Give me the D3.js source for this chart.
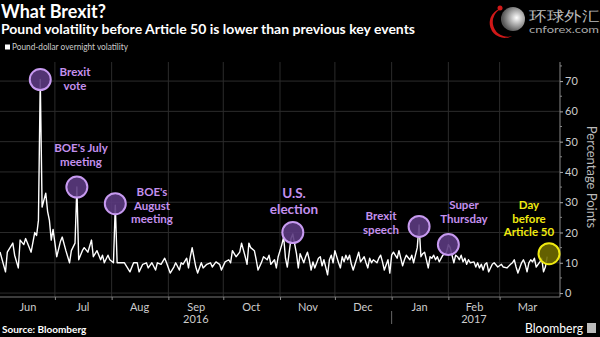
<!DOCTYPE html>
<html><head><meta charset="utf-8">
<script src="https://cdn.jsdelivr.net/npm/d3@7"></script>
<style>
html,body{margin:0;padding:0;background:#000;}
svg{display:block;}
text{font-family:Lato,"Open Sans",sans-serif;}
</style></head>
<body>
<script>
// ---------- data ----------
const dates = ["2016-06-01","2016-06-04","2016-06-05","2016-06-08","2016-06-09","2016-06-11","2016-06-12","2016-06-14","2016-06-15","2016-06-16","2016-06-18","2016-06-20","2016-06-21","2016-06-22","2016-06-23","2016-06-24","2016-06-26","2016-06-27","2016-06-28","2016-06-29","2016-06-30","2016-07-02","2016-07-04","2016-07-05","2016-07-07","2016-07-09","2016-07-10","2016-07-12","2016-07-13","2016-07-14","2016-07-16","2016-07-17","2016-07-19","2016-07-21","2016-07-22","2016-07-24","2016-07-26","2016-07-27","2016-07-28","2016-07-30","2016-07-31","2016-08-02","2016-08-03","2016-08-04","2016-08-06","2016-08-08","2016-08-09","2016-08-11","2016-08-13","2016-08-15","2016-08-16","2016-08-18","2016-08-20","2016-08-21","2016-08-23","2016-08-25","2016-08-26","2016-08-28","2016-08-30","2016-08-31","2016-09-02","2016-09-04","2016-09-05","2016-09-07","2016-09-08","2016-09-09","2016-09-11","2016-09-12","2016-09-13","2016-09-14","2016-09-16","2016-09-17","2016-09-19","2016-09-20","2016-09-22","2016-09-24","2016-09-25","2016-09-27","2016-09-29","2016-09-30","2016-10-02","2016-10-04","2016-10-05","2016-10-06","2016-10-08","2016-10-10","2016-10-11","2016-10-13","2016-10-14","2016-10-15","2016-10-16","2016-10-18","2016-10-19","2016-10-20","2016-10-22","2016-10-23","2016-10-25","2016-10-26","2016-10-27","2016-10-29","2016-10-30","2016-10-31","2016-11-02","2016-11-03","2016-11-04","2016-11-05","2016-11-07","2016-11-08","2016-11-10","2016-11-11","2016-11-12","2016-11-14","2016-11-15","2016-11-16","2016-11-17","2016-11-18","2016-11-19","2016-11-20","2016-11-22","2016-11-23","2016-11-24","2016-11-25","2016-11-27","2016-11-28","2016-11-29","2016-11-30","2016-12-01","2016-12-03","2016-12-04","2016-12-05","2016-12-06","2016-12-07","2016-12-08","2016-12-09","2016-12-10","2016-12-11","2016-12-13","2016-12-14","2016-12-15","2016-12-17","2016-12-18","2016-12-19","2016-12-20","2016-12-21","2016-12-22","2016-12-24","2016-12-25","2016-12-26","2016-12-27","2016-12-28","2016-12-30","2016-12-31","2017-01-01","2017-01-02","2017-01-04","2017-01-05","2017-01-06","2017-01-07","2017-01-08","2017-01-09","2017-01-11","2017-01-12","2017-01-13","2017-01-14","2017-01-15","2017-01-16","2017-01-17","2017-01-18","2017-01-19","2017-01-20","2017-01-21","2017-01-22","2017-01-23","2017-01-24","2017-01-25","2017-01-26","2017-01-27","2017-01-29","2017-01-30","2017-01-31","2017-02-01","2017-02-02","2017-02-04","2017-02-05","2017-02-06","2017-02-07","2017-02-08","2017-02-09","2017-02-10","2017-02-11","2017-02-12","2017-02-13","2017-02-15","2017-02-16","2017-02-17","2017-02-18","2017-02-19","2017-02-20","2017-02-21","2017-02-22","2017-02-23","2017-02-25","2017-02-26","2017-02-28","2017-03-02","2017-03-03","2017-03-05","2017-03-07","2017-03-08","2017-03-09","2017-03-10","2017-03-11","2017-03-13","2017-03-14","2017-03-15","2017-03-16","2017-03-17","2017-03-18","2017-03-19","2017-03-20","2017-03-21","2017-03-23","2017-03-24","2017-03-25","2017-03-26","2017-03-27"];
const values = [13.6,7,13.5,16.5,12.5,8.3,17.5,16,18,16.5,13.5,20,19,24,70.5,28.4,33,27,24,17.5,21,12,17,18.5,14,10,14,16.5,35,11,14,15,13.5,17.5,12,14,11,12.5,10,12.5,11,10,29,10,10,10,9,7,10,10,7,9.5,10,8.3,10,7.6,10,9.5,11.5,10,6.6,8.6,10,7.6,10,9.5,11.5,8.3,12,15,8.6,6.6,10,8.3,9.5,10,8.6,10.3,9.5,7.6,10.3,11,10,14,12,13.5,16.5,12,9.5,16.5,15,14,11,7.6,10.3,12,11,12.5,9.5,11,8.3,12,16,18.5,11.5,8.6,18,19.5,13,8.3,13,10,12,13.5,11,7.6,10.3,8.3,11.5,12,9,11,6,11,12.5,10,14,10,8.3,12,10.3,12.5,11,12.5,9.5,7.6,11.5,13.5,10.3,12,10,8.3,11.5,10,11,10,11.5,12.5,10.3,7.6,11,6.6,12.5,13.5,11.5,14,11.5,9,11,12.5,11,12.5,10,12.5,15,22.5,12,13,13.5,11,8.3,12,11.5,12.5,11,12,10.3,12.5,13,13.5,16,15,10,12.5,12,11,12.5,10.3,11.5,9.5,11,10,10.3,8.6,10,8.3,9.5,7.6,9.5,10,7,9.5,10,8.6,9.5,8.6,8.3,9.5,10,11,8.6,6.6,10,11,9.5,7,10,11,10.3,11.5,8.6,10.3,11.5,7,8.6,12];

const eventDates  = ["2016-06-23","2016-07-13","2016-08-03","2016-11-08","2017-01-16","2017-02-01","2017-03-28"];
const eventValues = [70.5,35,29.5,20,22,16,13];
const eventLabels = [["Brexit","vote"],["BOE's July","meeting"],["BOE's","August","meeting"],["U.S.","election"],["Brexit","speech"],["Super","Thursday"],["Day","before","Article 50"]];

const yTicks = [0,10,20,30,40,50,60,70];
const monthLabels = ["Jun","Jul","Aug","Sep","Oct","Nov","Dec","Jan","Feb","Mar"];
const monthMids = ["2016-06-16","2016-07-16","2016-08-16","2016-09-16","2016-10-16","2016-11-16","2016-12-16","2017-01-16","2017-02-15","2017-03-16"];
const monthStarts = ["2016-07-01","2016-08-01","2016-09-01","2016-10-01","2016-11-01","2016-12-01","2017-01-01","2017-02-01","2017-03-01"];
const yearLabels = ["2016","2017"];
const yearMids = ["2016-09-16","2017-02-15"];

// ---------- layout ----------
const W = 600, H = 337;
const parse = d3.timeParse("%Y-%m-%d");
const x = d3.scaleTime().domain([parse("2016-06-01"), parse("2017-04-03")]).range([0, 560]);
const y = d3.scaleLinear().domain([-1.3, 76.3]).range([297, 62]);

const svg = d3.select("body").append("svg").attr("width", W).attr("height", H);
svg.append("rect").attr("width", W).attr("height", H).attr("fill", "#000");

// header
svg.append("text").attr("x", 1).attr("y", 18).attr("fill", "#fff")
  .attr("font-size", 19).attr("font-weight", 700)
  .attr("textLength", 105).attr("lengthAdjust", "spacingAndGlyphs")
  .text("What Brexit?");
svg.append("text").attr("x", 1).attr("y", 34).attr("fill", "#fff")
  .attr("font-size", 13.5).attr("font-weight", 700)
  .attr("textLength", 414).attr("lengthAdjust", "spacingAndGlyphs")
  .text("Pound volatility before Article 50 is lower than previous key events");
svg.append("rect").attr("x", 5).attr("y", 44.5).attr("width", 5).attr("height", 5).attr("fill", "#fff");
svg.append("text").attr("x", 12).attr("y", 50).attr("fill", "#ccc")
  .attr("font-size", 8.5).attr("textLength", 116).attr("lengthAdjust", "spacingAndGlyphs")
  .text("Pound-dollar overnight volatility");

// logo
const defs = svg.append("defs");
const rg = defs.append("radialGradient").attr("id", "lg").attr("cx", "65%").attr("cy", "45%").attr("r", "60%");
rg.append("stop").attr("offset", "0%").attr("stop-color", "#fff");
rg.append("stop").attr("offset", "100%").attr("stop-color", "#555");
svg.append("path").attr("d", "M503,8 A15,15 0 1,0 512,36 A13,13 0 0,1 503,8 Z").attr("fill", "#d01818");
svg.append("circle").attr("cx", 513).attr("cy", 19).attr("r", 12).attr("fill", "url(#lg)");
svg.append("circle").attr("cx", 500).attr("cy", 8).attr("r", 2.5).attr("fill", "#d01818");
svg.append("text").attr("x", 529).attr("y", 21).attr("fill", "#bbb")
  .attr("font-family", "Noto Sans CJK SC").attr("font-size", 14)
  .attr("textLength", 70).attr("lengthAdjust", "spacingAndGlyphs").text("环球外汇");
svg.append("text").attr("x", 529).attr("y", 33).attr("fill", "#aaa")
  .attr("font-family", "DejaVu Sans Mono").attr("font-size", 9.5)
  .attr("textLength", 70).attr("lengthAdjust", "spacingAndGlyphs").text("cnforex.com");

// grid
const g = svg.append("g");
g.selectAll(".hg").data(yTicks).join("line")
  .attr("x1", 0).attr("x2", 560).attr("y1", d => y(d)).attr("y2", d => y(d))
  .attr("stroke", "#2b2b2b").attr("stroke-width", 1);
g.selectAll(".vg").data(monthStarts).join("line")
  .attr("x1", d => x(parse(d))).attr("x2", d => x(parse(d)))
  .attr("y1", 62).attr("y2", 297)
  .attr("stroke", "#2b2b2b").attr("stroke-width", 1);

// right axis
const yAxis = d3.axisRight(y).tickValues(yTicks).tickSize(3).tickPadding(2);
const ya = svg.append("g").attr("transform", "translate(560,0)").call(yAxis);
ya.select(".domain").attr("stroke", "#888").attr("d", "M0,62V297");
ya.selectAll(".tick line").attr("stroke", "#aaa");
ya.selectAll(".tick text").attr("fill", "#ccc").attr("font-size", 11).attr("font-family", "Lato, sans-serif");
const minor = d3.range(5, 76, 10);
ya.selectAll(".mn").data(minor).join("line")
  .attr("x1", 0).attr("x2", 2).attr("y1", d => y(d)).attr("y2", d => y(d)).attr("stroke", "#888");
svg.append("text").attr("transform", "translate(587,177) rotate(90)")
  .attr("text-anchor", "middle").attr("fill", "#bbb").attr("font-size", 13)
  .text("Percentage Points");

// x axis
svg.append("line").attr("x1", 0).attr("x2", 560).attr("y1", 297).attr("y2", 297).attr("stroke", "#777");
const xTickAxis = d3.axisBottom(x).tickValues(monthStarts.map(parse)).tickSize(3).tickFormat("");
const xt = svg.append("g").attr("transform", "translate(0,297)").call(xTickAxis);
xt.select(".domain").remove();
xt.selectAll(".tick line").attr("stroke", "#888");
const xLabAxis = d3.axisBottom(x).tickValues(monthMids.map(parse)).tickSize(0).tickPadding(6)
  .tickFormat((d, i) => monthLabels[i]);
const xl = svg.append("g").attr("transform", "translate(0,297)").call(xLabAxis);
xl.select(".domain").remove();
xl.selectAll(".tick text").attr("fill", "#ccc").attr("font-size", 11).attr("font-family", "Lato, sans-serif");
svg.selectAll(".yl").data(yearLabels).join("text")
  .attr("x", (d, i) => x(parse(yearMids[i]))).attr("y", 323)
  .attr("text-anchor", "middle").attr("fill", "#ccc").attr("font-size", 11).text(d => d);
svg.append("line").attr("x1", x(parse("2017-01-01"))).attr("x2", x(parse("2017-01-01")))
  .attr("y1", 311).attr("y2", 324).attr("stroke", "#666");

// line
const pts = dates.map((d, i) => [parse(d), values[i]]);
svg.append("path").datum(pts)
  .attr("fill", "none").attr("stroke", "#fff").attr("stroke-width", 1.4).attr("stroke-linejoin", "round")
  .attr("d", d3.line().x(d => x(d[0])).y(d => y(d[1])));

// events
const evG = svg.append("g");
eventDates.forEach((d, i) => {
  const last = i === eventDates.length - 1;
  const cx = x(parse(d)), cy = y(eventValues[i]);
  evG.append("circle").attr("cx", cx).attr("cy", cy).attr("r", 10.5)
    .attr("fill", last ? "#6e6a00" : "#5b3a80").attr("fill-opacity", 0.9)
    .attr("stroke", last ? "#f0ea10" : "#c79af0").attr("stroke-width", 2);
});
const labelPos = [[75,76],[81,152],[152,196],[294,198],[381,220],[464,209],[529,209]];
eventLabels.forEach((lines, i) => {
  const last = i === eventLabels.length - 1;
  const big = i === 3;
  const lh = big ? 16 : 13.5;
  lines.forEach((s, j) => {
    svg.append("text").attr("text-anchor", "middle")
      .attr("fill", last ? "#f0ea10" : "#c490ee").attr("font-weight", 700)
      .attr("font-family", "'Open Sans', sans-serif")
      .attr("font-size", big ? 13.5 : 11.5)
      .attr("x", labelPos[i][0]).attr("y", labelPos[i][1] + j * lh).text(s);
  });
});

// footer
svg.append("text").attr("x", 2).attr("y", 333).attr("fill", "#fff")
  .attr("font-size", 10).attr("font-weight", 700).text("Source: Bloomberg");
svg.append("text").attr("x", 525).attr("y", 333).attr("fill", "#fff")
  .attr("font-size", 13).attr("textLength", 58).attr("lengthAdjust", "spacingAndGlyphs").text("Bloomberg");
svg.append("rect").attr("x", 587).attr("y", 323).attr("width", 9).attr("height", 10).attr("fill", "#bbb");
</script>
</body></html>
